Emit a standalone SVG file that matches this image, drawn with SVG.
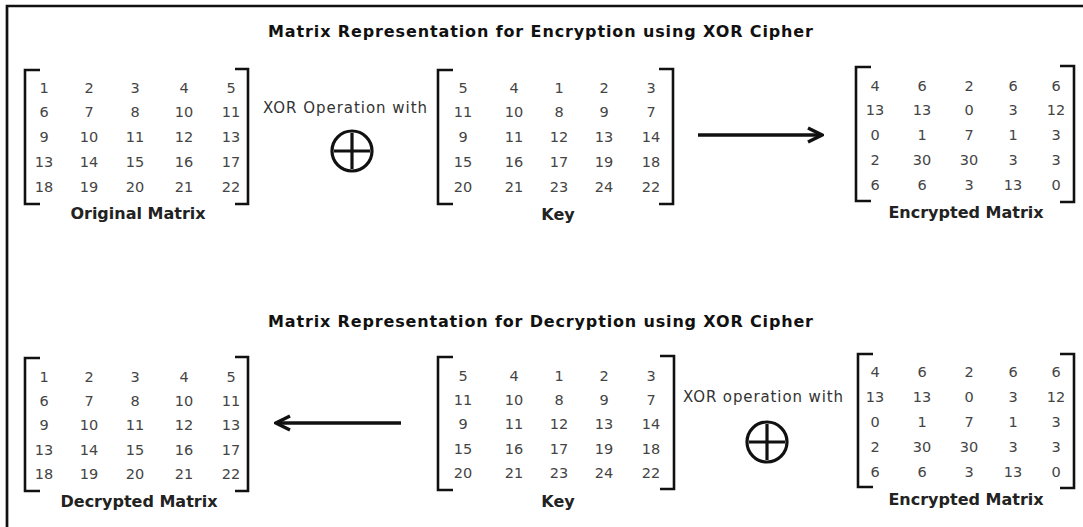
<svg xmlns="http://www.w3.org/2000/svg" width="1083" height="527" viewBox="0 0 1083 527">
<style>
.title{font-family:"DejaVu Sans",sans-serif;font-weight:bold;font-size:16px;fill:#111}
.num{font-family:"DejaVu Sans",sans-serif;font-size:14.5px;fill:#444;text-anchor:middle}
.lbl{font-family:"DejaVu Sans",sans-serif;font-weight:bold;font-size:16px;fill:#222;text-anchor:middle}
.op{font-family:"DejaVu Sans",sans-serif;font-size:15px;fill:#333;text-anchor:middle}
.br{fill:none;stroke:#111;stroke-width:2.6}
.xor{fill:none;stroke:#111;stroke-width:3.2}
.arrow{fill:none;stroke:#111;stroke-width:3.5;marker-end:url(#head)}
</style>
<defs>
<marker id="head" viewBox="0 0 10 10" refX="9" refY="5" markerWidth="5" markerHeight="5" orient="auto" markerUnits="strokeWidth">
<polyline points="1,1 9,5 1,9" fill="none" stroke="#111" stroke-width="2"/>
</marker>
</defs>
<rect width="1083" height="527" fill="#fff"/>
<path d="M7,527 V6 H1083" fill="none" stroke="#111" stroke-width="2.7"/>

<g id="title-encryption"><text class="title" x="268" y="37" textLength="545">Matrix Representation for Encryption using XOR Cipher</text></g>

<g id="original-matrix">
<path class="br" d="M40,70 H25 V204 H40"/>
<path class="br" d="M235,69 H248 V204 H235"/>
<text class="num" y="93"><tspan x="44">1</tspan><tspan x="89">2</tspan><tspan x="135">3</tspan><tspan x="184">4</tspan><tspan x="231">5</tspan></text>
<text class="num" y="117"><tspan x="44">6</tspan><tspan x="89">7</tspan><tspan x="135">8</tspan><tspan x="184">10</tspan><tspan x="231">11</tspan></text>
<text class="num" y="142"><tspan x="44">9</tspan><tspan x="89">10</tspan><tspan x="135">11</tspan><tspan x="184">12</tspan><tspan x="231">13</tspan></text>
<text class="num" y="167"><tspan x="44">13</tspan><tspan x="89">14</tspan><tspan x="135">15</tspan><tspan x="184">16</tspan><tspan x="231">17</tspan></text>
<text class="num" y="192"><tspan x="44">18</tspan><tspan x="89">19</tspan><tspan x="135">20</tspan><tspan x="184">21</tspan><tspan x="231">22</tspan></text>
<text class="lbl" x="138" y="219">Original Matrix</text>
</g>

<g id="xor-operation-1">
<text class="op" x="345" y="113" textLength="164">XOR Operation with</text>
<circle class="xor" cx="352" cy="151" r="20"/>
<path class="xor" d="M334,151 H370 M352,133 V169"/>
</g>

<g id="key-1">
<path class="br" d="M453,70 H438 V204 H453"/>
<path class="br" d="M659,69 H673 V204 H659"/>
<text class="num" y="93"><tspan x="463">5</tspan><tspan x="514">4</tspan><tspan x="559">1</tspan><tspan x="604">2</tspan><tspan x="651">3</tspan></text>
<text class="num" y="117"><tspan x="463">11</tspan><tspan x="514">10</tspan><tspan x="559">8</tspan><tspan x="604">9</tspan><tspan x="651">7</tspan></text>
<text class="num" y="142"><tspan x="463">9</tspan><tspan x="514">11</tspan><tspan x="559">12</tspan><tspan x="604">13</tspan><tspan x="651">14</tspan></text>
<text class="num" y="167"><tspan x="463">15</tspan><tspan x="514">16</tspan><tspan x="559">17</tspan><tspan x="604">19</tspan><tspan x="651">18</tspan></text>
<text class="num" y="192"><tspan x="463">20</tspan><tspan x="514">21</tspan><tspan x="559">23</tspan><tspan x="604">24</tspan><tspan x="651">22</tspan></text>
<text class="lbl" x="558" y="220">Key</text>
</g>

<g id="encrypted-1">
<path class="br" d="M871,67 H856 V201 H871"/>
<path class="br" d="M1060,66 H1074 V202 H1060"/>
<text class="num" y="91"><tspan x="875">4</tspan><tspan x="922">6</tspan><tspan x="969">2</tspan><tspan x="1013">6</tspan><tspan x="1056">6</tspan></text>
<text class="num" y="115"><tspan x="875">13</tspan><tspan x="922">13</tspan><tspan x="969">0</tspan><tspan x="1013">3</tspan><tspan x="1056">12</tspan></text>
<text class="num" y="140"><tspan x="875">0</tspan><tspan x="922">1</tspan><tspan x="969">7</tspan><tspan x="1013">1</tspan><tspan x="1056">3</tspan></text>
<text class="num" y="165"><tspan x="875">2</tspan><tspan x="922">30</tspan><tspan x="969">30</tspan><tspan x="1013">3</tspan><tspan x="1056">3</tspan></text>
<text class="num" y="190"><tspan x="875">6</tspan><tspan x="922">6</tspan><tspan x="969">3</tspan><tspan x="1013">13</tspan><tspan x="1056">0</tspan></text>
<text class="lbl" x="966" y="218">Encrypted Matrix</text>
</g>

<g id="title-decryption"><text class="title" x="268" y="327" textLength="545">Matrix Representation for Decryption using XOR Cipher</text></g>

<g id="decrypted-matrix">
<path class="br" d="M40,358 H25 V491 H40"/>
<path class="br" d="M235,357 H248 V491 H235"/>
<text class="num" y="382"><tspan x="44">1</tspan><tspan x="89">2</tspan><tspan x="135">3</tspan><tspan x="184">4</tspan><tspan x="231">5</tspan></text>
<text class="num" y="406"><tspan x="44">6</tspan><tspan x="89">7</tspan><tspan x="135">8</tspan><tspan x="184">10</tspan><tspan x="231">11</tspan></text>
<text class="num" y="430"><tspan x="44">9</tspan><tspan x="89">10</tspan><tspan x="135">11</tspan><tspan x="184">12</tspan><tspan x="231">13</tspan></text>
<text class="num" y="455"><tspan x="44">13</tspan><tspan x="89">14</tspan><tspan x="135">15</tspan><tspan x="184">16</tspan><tspan x="231">17</tspan></text>
<text class="num" y="479"><tspan x="44">18</tspan><tspan x="89">19</tspan><tspan x="135">20</tspan><tspan x="184">21</tspan><tspan x="231">22</tspan></text>
<text class="lbl" x="139" y="507">Decrypted Matrix</text>
</g>

<g id="key-2">
<path class="br" d="M453,357 H438 V490 H453"/>
<path class="br" d="M660,356 H674 V489 H660"/>
<text class="num" y="381"><tspan x="463">5</tspan><tspan x="514">4</tspan><tspan x="559">1</tspan><tspan x="604">2</tspan><tspan x="651">3</tspan></text>
<text class="num" y="405"><tspan x="463">11</tspan><tspan x="514">10</tspan><tspan x="559">8</tspan><tspan x="604">9</tspan><tspan x="651">7</tspan></text>
<text class="num" y="429"><tspan x="463">9</tspan><tspan x="514">11</tspan><tspan x="559">12</tspan><tspan x="604">13</tspan><tspan x="651">14</tspan></text>
<text class="num" y="454"><tspan x="463">15</tspan><tspan x="514">16</tspan><tspan x="559">17</tspan><tspan x="604">19</tspan><tspan x="651">18</tspan></text>
<text class="num" y="478"><tspan x="463">20</tspan><tspan x="514">21</tspan><tspan x="559">23</tspan><tspan x="604">24</tspan><tspan x="651">22</tspan></text>
<text class="lbl" x="558" y="507">Key</text>
</g>

<g id="xor-operation-2">
<text class="op" x="763" y="402" textLength="160">XOR operation with</text>
<circle class="xor" cx="767" cy="442" r="20"/>
<path class="xor" d="M749,442 H785 M767,424 V460"/>
</g>

<g id="encrypted-2">
<path class="br" d="M873,354 H858 V487 H873"/>
<path class="br" d="M1060,354 H1074 V488 H1060"/>
<text class="num" y="377"><tspan x="875">4</tspan><tspan x="922">6</tspan><tspan x="969">2</tspan><tspan x="1013">6</tspan><tspan x="1056">6</tspan></text>
<text class="num" y="402"><tspan x="875">13</tspan><tspan x="922">13</tspan><tspan x="969">0</tspan><tspan x="1013">3</tspan><tspan x="1056">12</tspan></text>
<text class="num" y="427"><tspan x="875">0</tspan><tspan x="922">1</tspan><tspan x="969">7</tspan><tspan x="1013">1</tspan><tspan x="1056">3</tspan></text>
<text class="num" y="452"><tspan x="875">2</tspan><tspan x="922">30</tspan><tspan x="969">30</tspan><tspan x="1013">3</tspan><tspan x="1056">3</tspan></text>
<text class="num" y="477"><tspan x="875">6</tspan><tspan x="922">6</tspan><tspan x="969">3</tspan><tspan x="1013">13</tspan><tspan x="1056">0</tspan></text>
<text class="lbl" x="966" y="505">Encrypted Matrix</text>
</g>

<g id="connectors">
<path class="arrow" d="M698,135 H822"/>
<path class="arrow" d="M401,423 H276"/>
</g>
</svg>
